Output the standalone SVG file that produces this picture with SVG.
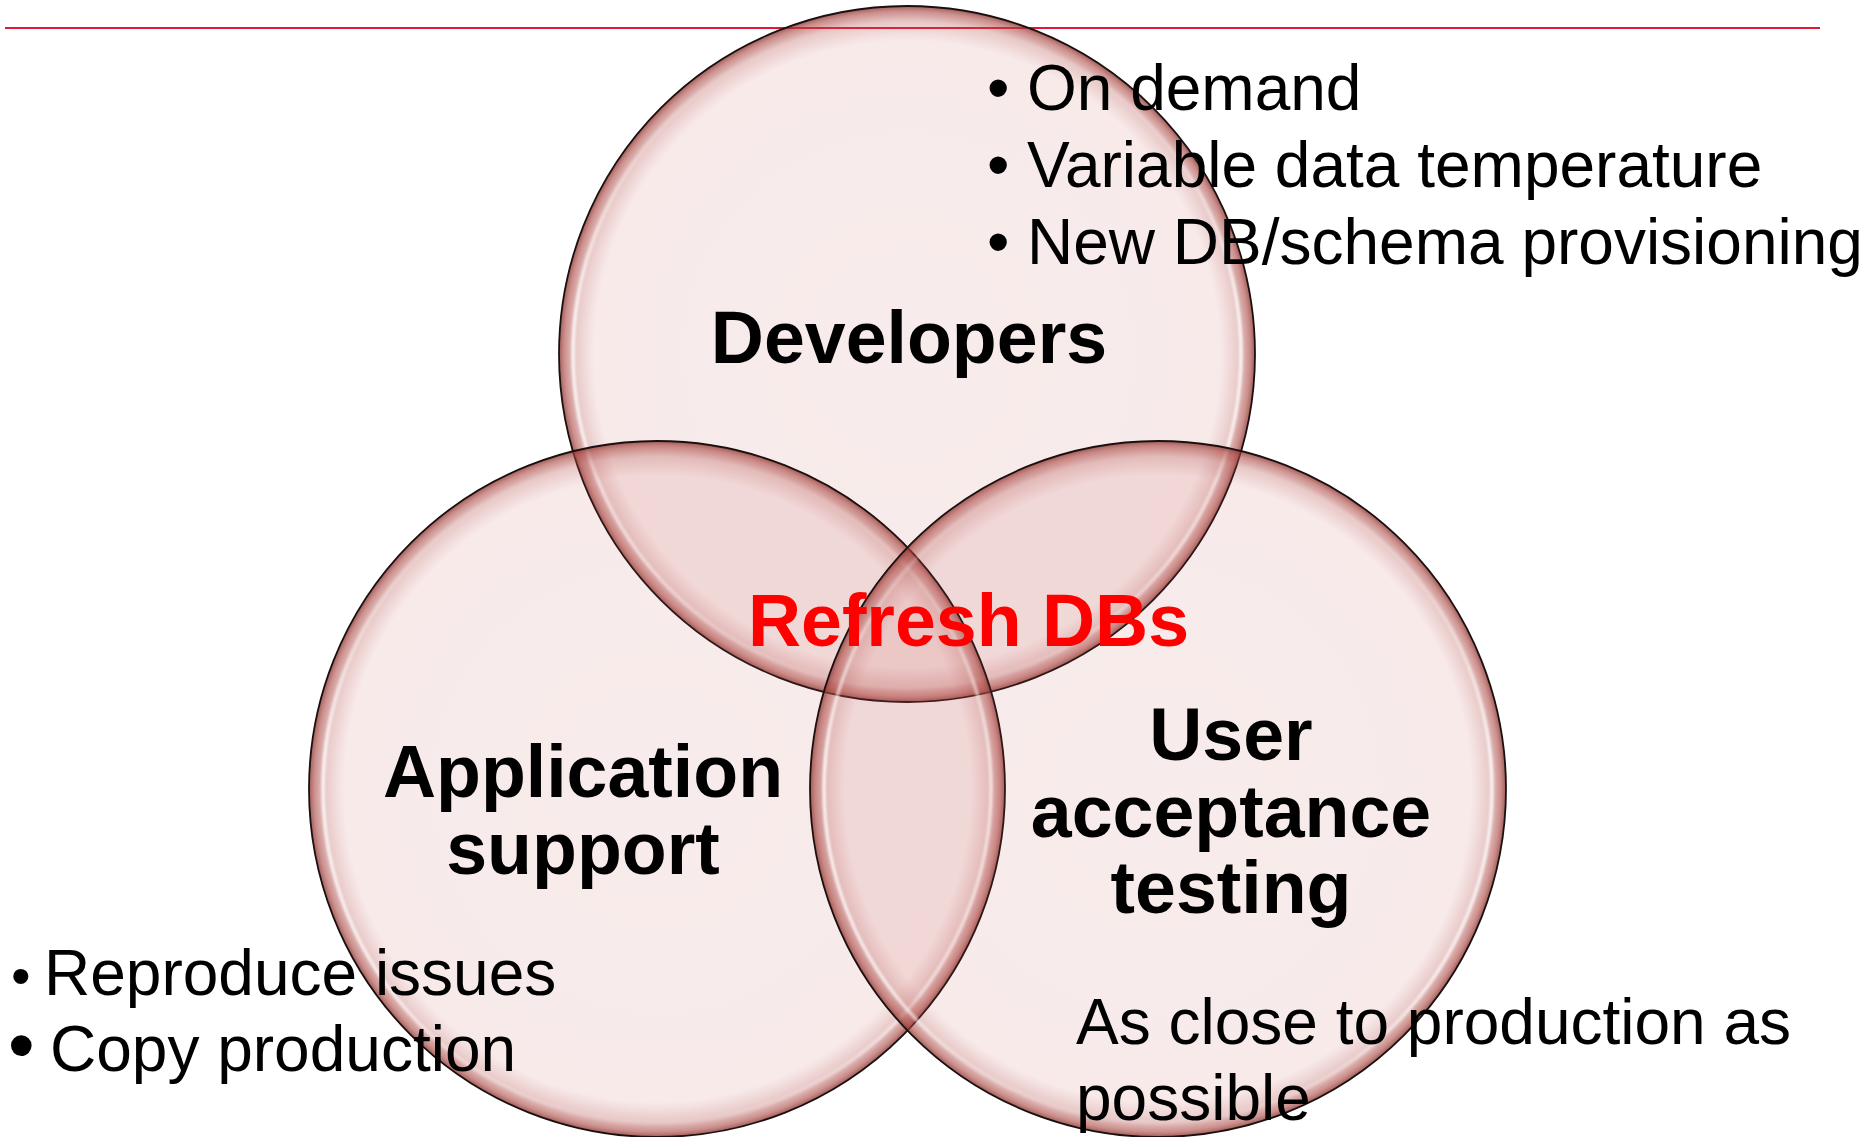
<svg xmlns="http://www.w3.org/2000/svg" width="1868" height="1137" viewBox="0 0 1868 1137">
<defs>
<radialGradient id="bubble" cx="50%" cy="50%" r="50%">
<stop offset="0" stop-color="#c0504d" stop-opacity="0.11"/>
<stop offset="0.9" stop-color="#c0504d" stop-opacity="0.12"/>
<stop offset="0.955" stop-color="#b04a45" stop-opacity="0.3"/>
<stop offset="0.985" stop-color="#a8443f" stop-opacity="0.6"/>
<stop offset="1" stop-color="#8a3530" stop-opacity="0.8"/>
</radialGradient>
<linearGradient id="shine" x1="0" y1="0" x2="0" y2="1">
<stop offset="0" stop-color="#ffffff" stop-opacity="0"/>
<stop offset="0.2" stop-color="#ffffff" stop-opacity="0.25"/>
<stop offset="0.45" stop-color="#ffffff" stop-opacity="0.8"/>
<stop offset="0.8" stop-color="#ffffff" stop-opacity="0.7"/>
<stop offset="1" stop-color="#ffffff" stop-opacity="0.1"/>
</linearGradient>
<filter id="soft" x="-5%" y="-5%" width="110%" height="110%">
<feGaussianBlur stdDeviation="1.2"/>
</filter>
</defs>
<style>
.bub{fill:url(#bubble);stroke:#1a1010;stroke-width:1.8}
.hl{fill:none;stroke:url(#shine);stroke-width:3.5;filter:url(#soft)}
.t{font-family:"Liberation Sans",Arial,sans-serif;font-size:64px;fill:#000}
.b{font-family:"Liberation Sans",Arial,sans-serif;font-size:73.5px;font-weight:bold;fill:#000;text-anchor:middle}
.red{fill:#ff0000}
</style>
<rect width="1868" height="1137" fill="#ffffff"/>
<line x1="5" y1="28" x2="1820" y2="28" stroke="#e31837" stroke-width="2"/>
<g id="circle-developers">
<circle class="bub" cx="907" cy="354" r="348"/>
<circle class="hl" cx="907" cy="354" r="334"/>
</g>
<g id="circle-application-support">
<circle class="bub" cx="657" cy="789" r="348"/>
<circle class="hl" cx="657" cy="789" r="334"/>
</g>
<g id="circle-user-acceptance">
<circle class="bub" cx="1158" cy="789" r="348"/>
<circle class="hl" cx="1158" cy="789" r="334"/>
</g>
<g id="connectors"></g>
<g id="label-developers">
<text class="b" x="909" y="363">Developers</text>
</g>
<g id="label-refresh">
<text class="b red" x="968.5" y="646">Refresh DBs</text>
</g>
<g id="label-application-support">
<text class="b" x="583" y="797">Application</text>
<text class="b" x="583" y="874">support</text>
</g>
<g id="label-user-acceptance">
<text class="b" x="1231" y="760">User</text>
<text class="b" x="1231" y="837">acceptance</text>
<text class="b" x="1231" y="913">testing</text>
</g>
<g id="notes-developers">
<text class="t" x="987" y="110">•</text>
<text class="t" x="1027" y="110">On demand</text>
<text class="t" x="987" y="187">•</text>
<text class="t" x="1027" y="187">Variable data temperature</text>
<text class="t" x="987" y="264">•</text>
<text class="t" x="1027" y="264">New DB/schema provisioning</text>
</g>
<g id="notes-application-support">
<text class="t" x="11" y="995" style="font-size:56px">•</text>
<text class="t" x="44" y="995">Reproduce issues</text>
<text class="t" x="8" y="1071" style="font-size:76px">•</text>
<text class="t" x="50" y="1071">Copy production</text>
</g>
<g id="notes-user-acceptance">
<text class="t" x="1076" y="1044">As close to production as</text>
<text class="t" x="1076" y="1120">possible</text>
</g>
</svg>
